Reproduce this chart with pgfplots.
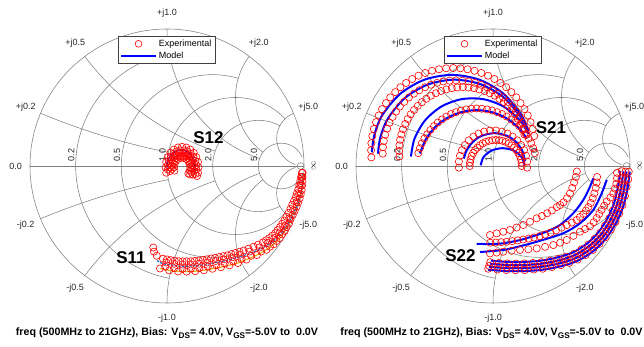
\documentclass[border=0pt]{standalone}
\usepackage{fontspec}
\setmainfont{Liberation Sans}
\usepackage{pgfplots}
\pgfplotsset{compat=1.18}
\definecolor{gridc}{RGB}{128,128,128}
\definecolor{mblue}{RGB}{40,120,200}
\definecolor{myel}{RGB}{237,177,32}
\tikzset{gl/.style={gridc,line width=0.55pt},
 lab/.style={font=\fontsize{9}{10}\selectfont,text=black!85,inner sep=1pt}}
\newcommand{\smithgrid}{%
\draw[gl] (0,0) circle[radius=1];
\draw[gl] (-1,0) -- (1,0);
\draw[gl] ([shift={(100.39:0.8333)}]0.1667,0) arc[start angle=100.39,end angle=259.61,radius=0.8333];
\draw[gl] ([shift={(73.74:0.6667)}]0.3333,0) arc[start angle=73.74,end angle=286.26,radius=0.6667];
\draw[gl] ([shift={(43.60:0.5)}]0.5,0) arc[start angle=43.60,end angle=316.40,radius=0.5];
\draw[gl] ([shift={(61.93:0.3333)}]0.6667,0) arc[start angle=61.93,end angle=298.07,radius=0.3333];
\draw[gl] ([shift={(22.62:0.1667)}]0.8333,0) arc[start angle=22.62,end angle=337.38,radius=0.1667];
\draw[gl] ([shift={(-112.62:5)}]1,5) arc[start angle=-112.62,end angle=-101.42,radius=5];
\draw[gl] ([shift={(112.62:5)}]1,-5) arc[start angle=112.62,end angle=101.42,radius=5];
\draw[gl] ([shift={(-143.13:2)}]1,2) arc[start angle=-143.13,end angle=-108.92,radius=2];
\draw[gl] ([shift={(143.13:2)}]1,-2) arc[start angle=143.13,end angle=108.92,radius=2];
\draw[gl] ([shift={(-180:1)}]1,1) arc[start angle=-180,end angle=-108.92,radius=1];
\draw[gl] ([shift={(180:1)}]1,-1) arc[start angle=180,end angle=108.92,radius=1];
\draw[gl] ([shift={(-216.87:0.5)}]1,0.5) arc[start angle=-216.87,end angle=-126.87,radius=0.5];
\draw[gl] ([shift={(216.87:0.5)}]1,-0.5) arc[start angle=216.87,end angle=126.87,radius=0.5];
\draw[gl] ([shift={(-247.38:0.2)}]1,0.2) arc[start angle=-247.38,end angle=-108.33,radius=0.2];
\draw[gl] ([shift={(247.38:0.2)}]1,-0.2) arc[start angle=247.38,end angle=108.33,radius=0.2];
\draw[gl] (0.975,0) circle[radius=0.025];
\node[lab] at (0,1.115) {+j1.0};
\node[lab] at (-0.67,0.894) {+j0.5};
\node[lab] at (0.67,0.894) {+j2.0};
\node[lab] at (-1.031,0.43) {+j0.2};
\node[lab] at (1.031,0.43) {+j5.0};
\node[lab] at (0,-1.11) {-j1.0};
\node[lab] at (-0.67,-0.894) {-j0.5};
\node[lab] at (0.67,-0.894) {-j2.0};
\node[lab] at (-1.031,-0.43) {-j0.2};
\node[lab] at (1.031,-0.43) {-j5.0};
\node[lab,anchor=east] at (-1.05,0) {0.0};
\node[lab,rotate=90] at (1.07,0) {$\infty$};
\node[lab,rotate=90,anchor=south west] at (-0.667,0.025) {0.2};
\node[lab,rotate=90,anchor=south west] at (-0.333,0.025) {0.5};
\node[lab,rotate=90,anchor=south west] at (0,0.025) {1.0};
\node[lab,rotate=90,anchor=south west] at (0.333,0.025) {2.0};
\node[lab,rotate=90,anchor=south west] at (0.667,0.025) {5.0};
}
\pgfplotsset{
 legend image code/.code={\draw[mark repeat=2,mark phase=2,#1] plot coordinates {(0cm,0cm) (0.6cm,0cm) (1.2cm,0cm)};},
 exp/.style={only marks,mark=o,mark size=3.6pt,red,mark options={line width=0.6pt}},
 mdl/.style={no marks,blue,line width=2pt,smooth},
 smax/.style={x=137pt,y=137pt,xmin=-1,xmax=1,ymin=-1,ymax=1,hide axis,clip=false,anchor=south west,
   legend style={at={(axis cs:-0.358,0.949)},anchor=north west,draw=black!75,line width=0.6pt,fill=white,
   font=\fontsize{9}{10}\selectfont,inner xsep=2pt,inner ysep=1.5pt,row sep=0pt,cells={anchor=west}}},
}
\newcommand{\mylegend}{%
\addlegendimage{only marks,mark=o,mark size=3.4pt,red,mark options={line width=0.6pt}}
\addlegendentry{Experimental}
\addlegendimage{no marks,blue,line width=2.4pt}
\addlegendentry{Model}
}
\begin{document}
\begin{tikzpicture}
\path[use as bounding box] (0,0) rectangle (644pt,347pt);
\begin{scope}[shift={(167pt,181pt)},x=137pt,y=137pt]\smithgrid\end{scope}
\begin{scope}[shift={(493pt,181pt)},x=137pt,y=137pt]\smithgrid\end{scope}

% ---------------- LEFT: S11, S12 ----------------
\begin{axis}[smax,at={(30pt,44pt)}]
\mylegend
% S12 model
\addplot[no marks,blue,line width=1.5pt,smooth] coordinates {(0.0,-0.01)(0.005,0.04)(0.03,0.08)(0.065,0.108)(0.11,0.118)(0.15,0.105)(0.18,0.075)(0.198,0.035)(0.205,-0.005)(0.203,-0.045)};
% S12 experimental
\addplot[exp] coordinates {(-0.006,-0.049)(-0.010,-0.010)(-0.006,0.029)(0.006,0.065)(0.025,0.096)(0.050,0.120)(0.079,0.135)(0.110,0.140)(0.141,0.135)(0.170,0.120)(0.195,0.096)(0.214,0.065)(0.226,0.029)(0.230,-0.010)(0.226,-0.049)(0.219,-0.073)};
\addplot[exp] coordinates {(0.006,-0.026)(0.006,0.006)(0.013,0.038)(0.027,0.066)(0.046,0.089)(0.070,0.106)(0.096,0.114)(0.124,0.114)(0.150,0.106)(0.174,0.089)(0.193,0.066)(0.207,0.038)(0.214,0.006)(0.214,-0.026)(0.207,-0.058)};
\addplot[exp] coordinates {(0.023,-0.037)(0.020,-0.010)(0.023,0.017)(0.032,0.043)(0.046,0.064)(0.065,0.081)(0.087,0.091)(0.110,0.095)(0.133,0.091)(0.155,0.081)(0.174,0.064)(0.188,0.043)(0.197,0.017)(0.200,-0.010)(0.197,-0.037)(0.188,-0.063)};
\addplot[exp] coordinates {(0.036,-0.021)(0.036,0.001)(0.041,0.023)(0.051,0.042)(0.064,0.057)(0.081,0.069)(0.100,0.074)(0.120,0.074)(0.139,0.069)(0.156,0.057)(0.169,0.042)(0.179,0.023)(0.184,0.001)(0.184,-0.021)(0.179,-0.043)(0.169,-0.062)};
\addplot[exp] coordinates {(0.054,-0.034)(0.050,-0.010)(0.054,0.014)(0.064,0.035)(0.080,0.051)(0.100,0.059)(0.120,0.059)(0.140,0.051)(0.156,0.035)(0.166,0.014)(0.170,-0.010)(0.166,-0.034)(0.156,-0.055)};
% S11 yellow model (mostly hidden)
\addplot[no marks,myel,line width=1.2pt,smooth] coordinates {(0.990,-0.050)(0.988,-0.110)(0.983,-0.175)(0.968,-0.237)(0.946,-0.297)(0.918,-0.358)(0.890,-0.421)(0.860,-0.474)(0.823,-0.527)(0.778,-0.572)(0.726,-0.611)(0.656,-0.650)(0.580,-0.683)(0.518,-0.708)(0.456,-0.725)(0.394,-0.739)(0.332,-0.750)(0.269,-0.761)(0.206,-0.768)(0.143,-0.771)(0.081,-0.770)(0.016,-0.762)(-0.051,-0.748)};
% S11 experimental
\addplot[exp] coordinates {(0.990,-0.050)(0.988,-0.110)(0.983,-0.175)(0.968,-0.237)(0.946,-0.297)(0.918,-0.358)(0.890,-0.421)(0.860,-0.474)(0.823,-0.527)(0.778,-0.572)(0.726,-0.611)(0.656,-0.650)(0.580,-0.683)(0.518,-0.708)(0.456,-0.725)(0.394,-0.739)(0.332,-0.750)(0.269,-0.761)(0.206,-0.768)(0.143,-0.771)(0.081,-0.770)(0.016,-0.762)(-0.051,-0.748)};
\addplot[exp] coordinates {(0.984,-0.080)(0.976,-0.141)(0.964,-0.203)(0.946,-0.263)(0.921,-0.322)(0.892,-0.382)(0.859,-0.436)(0.824,-0.484)(0.783,-0.526)(0.735,-0.562)(0.675,-0.595)(0.603,-0.625)(0.535,-0.648)(0.475,-0.666)(0.415,-0.681)(0.355,-0.693)(0.294,-0.704)(0.234,-0.713)(0.173,-0.718)(0.113,-0.719)(0.053,-0.714)(-0.006,-0.704)};
\addplot[exp] coordinates {(0.985,-0.050)(0.973,-0.109)(0.959,-0.170)(0.940,-0.227)(0.914,-0.283)(0.888,-0.341)(0.857,-0.398)(0.825,-0.446)(0.790,-0.490)(0.747,-0.526)(0.699,-0.558)(0.632,-0.589)(0.559,-0.617)(0.499,-0.635)(0.441,-0.652)(0.381,-0.664)(0.321,-0.675)(0.262,-0.686)(0.202,-0.693)(0.143,-0.696)(0.085,-0.695)(0.027,-0.687)(-0.029,-0.677)(-0.075,-0.655)(-0.095,-0.625)(-0.100,-0.595)};
\addplot[exp] coordinates {(0.979,-0.080)(0.966,-0.140)(0.949,-0.199)(0.927,-0.255)(0.901,-0.313)(0.872,-0.370)(0.841,-0.422)(0.807,-0.468)(0.769,-0.508)(0.723,-0.542)(0.665,-0.574)(0.595,-0.603)(0.529,-0.626)(0.470,-0.643)(0.411,-0.658)(0.351,-0.670)(0.291,-0.681)(0.232,-0.690)(0.173,-0.695)(0.114,-0.696)(0.056,-0.691)(-0.001,-0.682)};
\addplot[exp] coordinates {(0.989,-0.080)(0.986,-0.143)(0.976,-0.206)(0.957,-0.267)(0.932,-0.328)(0.902,-0.388)(0.873,-0.446)(0.840,-0.499)(0.799,-0.547)(0.751,-0.589)(0.688,-0.624)(0.614,-0.655)(0.544,-0.679)(0.483,-0.697)(0.421,-0.712)(0.360,-0.724)(0.298,-0.735)(0.236,-0.745)(0.174,-0.750)(0.113,-0.751)(0.051,-0.746)(-0.013,-0.735)};
% S11 model
\addplot[no marks,mblue,line width=1.3pt,smooth,dash pattern=on 2.5pt off 1.2pt] coordinates {(0.990,-0.050)(0.988,-0.110)(0.983,-0.175)(0.968,-0.237)(0.946,-0.297)(0.918,-0.358)(0.886,-0.418)(0.852,-0.468)(0.813,-0.516)(0.767,-0.555)(0.715,-0.589)(0.645,-0.622)(0.569,-0.650)(0.508,-0.669)(0.448,-0.686)(0.387,-0.699)(0.326,-0.710)(0.265,-0.721)(0.204,-0.728)(0.143,-0.731)(0.083,-0.730)(0.022,-0.722)(-0.039,-0.710)(-0.075,-0.688)};
\end{axis}

% ---------------- RIGHT: S21, S22 ----------------
\begin{axis}[smax,at={(356pt,44pt)}]
\mylegend
% S21 experimental
\addplot[exp] coordinates {(0.301,0.219)(0.290,0.270)(0.274,0.320)(0.254,0.369)(0.230,0.415)(0.201,0.459)(0.170,0.501)(0.134,0.539)(0.096,0.575)(0.054,0.606)(0.010,0.635)(-0.036,0.659)(-0.085,0.679)(-0.135,0.695)(-0.186,0.706)(-0.238,0.713)(-0.290,0.715)(-0.342,0.713)(-0.394,0.706)(-0.445,0.695)(-0.495,0.679)(-0.544,0.659)(-0.590,0.635)(-0.634,0.606)(-0.676,0.575)(-0.714,0.539)(-0.750,0.501)(-0.781,0.459)(-0.810,0.415)(-0.834,0.369)(-0.854,0.320)(-0.870,0.270)(-0.881,0.219)(-0.888,0.167)(-0.890,0.115)(-0.888,0.063)};
\addplot[exp] coordinates {(0.247,0.228)(0.233,0.273)(0.215,0.316)(0.193,0.358)(0.168,0.397)(0.140,0.434)(0.108,0.468)(0.074,0.500)(0.037,0.528)(-0.002,0.553)(-0.044,0.575)(-0.087,0.593)(-0.132,0.607)(-0.177,0.617)(-0.223,0.623)(-0.270,0.625)(-0.317,0.623)(-0.363,0.617)(-0.408,0.607)(-0.453,0.593)(-0.496,0.575)(-0.538,0.553)(-0.577,0.528)(-0.614,0.500)(-0.648,0.468)(-0.680,0.434)(-0.708,0.397)(-0.733,0.358)(-0.755,0.316)(-0.773,0.273)(-0.787,0.228)(-0.797,0.183)(-0.803,0.137)(-0.805,0.090)};
\addplot[exp] coordinates {(0.229,0.230)(0.217,0.269)(0.201,0.307)(0.183,0.343)(0.161,0.377)(0.136,0.409)(0.109,0.439)(0.079,0.466)(0.047,0.491)(0.013,0.513)(-0.023,0.531)(-0.061,0.547)(-0.100,0.559)(-0.139,0.568)(-0.179,0.573)(-0.220,0.575)(-0.261,0.573)(-0.301,0.568)(-0.340,0.559)(-0.379,0.547)(-0.417,0.531)(-0.453,0.513)(-0.487,0.491)(-0.519,0.466)(-0.549,0.439)(-0.576,0.409)(-0.601,0.377)(-0.623,0.343)(-0.641,0.307)(-0.657,0.269)(-0.669,0.230)(-0.678,0.191)(-0.683,0.151)(-0.685,0.110)(-0.683,0.069)};
\addplot[exp] coordinates {(0.305,0.094)(0.293,0.130)(0.279,0.166)(0.261,0.200)(0.240,0.232)(0.217,0.263)(0.191,0.291)(0.163,0.317)(0.132,0.340)(0.100,0.361)(0.066,0.379)(0.030,0.393)(-0.006,0.405)(-0.044,0.413)(-0.082,0.418)(-0.120,0.420)(-0.158,0.418)(-0.196,0.413)(-0.234,0.405)(-0.270,0.393)(-0.306,0.379)(-0.340,0.361)(-0.372,0.340)(-0.403,0.317)(-0.431,0.291)(-0.457,0.263)(-0.480,0.232)(-0.501,0.200)(-0.519,0.166)(-0.533,0.130)(-0.545,0.094)};
\addplot[exp] coordinates {(0.249,-0.012)(0.249,0.032)(0.241,0.075)(0.227,0.116)(0.205,0.153)(0.177,0.187)(0.143,0.215)(0.106,0.237)(0.065,0.251)(0.022,0.259)(-0.022,0.259)(-0.065,0.251)(-0.106,0.237)(-0.143,0.215)(-0.177,0.187)(-0.205,0.153)(-0.227,0.116)(-0.241,0.075)(-0.249,0.032)(-0.249,-0.012)};
\addplot[exp] coordinates {(0.210,0.000)(0.208,0.025)(0.204,0.049)(0.196,0.073)(0.185,0.095)(0.171,0.116)(0.154,0.134)(0.136,0.151)(0.115,0.165)(0.093,0.176)(0.069,0.184)(0.045,0.188)(0.020,0.190)(-0.005,0.188)(-0.029,0.184)(-0.053,0.176)(-0.075,0.165)(-0.096,0.151)(-0.114,0.134)(-0.131,0.116)(-0.145,0.095)(-0.156,0.073)(-0.164,0.049)(-0.168,0.025)(-0.170,0.000)};
% S22 experimental
\addplot[exp] coordinates {(0.612,-0.040)(0.605,-0.080)(0.592,-0.120)(0.578,-0.160)(0.562,-0.200)(0.540,-0.235)(0.515,-0.265)(0.490,-0.285)(0.465,-0.300)(0.430,-0.325)(0.395,-0.345)(0.357,-0.365)(0.319,-0.382)(0.270,-0.407)(0.221,-0.431)(0.172,-0.449)(0.124,-0.467)(0.075,-0.480)(0.027,-0.492)(-0.022,-0.504)};
\addplot[exp] coordinates {(0.760,-0.080)(0.757,-0.120)(0.750,-0.160)(0.740,-0.200)(0.728,-0.235)(0.713,-0.270)(0.696,-0.300)(0.678,-0.325)(0.659,-0.350)(0.635,-0.372)(0.611,-0.394)(0.575,-0.413)(0.538,-0.431)(0.500,-0.450)(0.460,-0.470)(0.420,-0.487)(0.380,-0.500)(0.340,-0.512)(0.300,-0.522)(0.260,-0.530)(0.220,-0.537)(0.180,-0.543)(0.140,-0.548)(0.100,-0.553)(0.060,-0.556)(0.020,-0.559)(-0.020,-0.560)};
\addplot[exp] coordinates {(0.905,-0.050)(0.905,-0.090)(0.900,-0.130)(0.890,-0.165)(0.878,-0.200)(0.857,-0.230)(0.830,-0.260)(0.812,-0.290)(0.793,-0.320)(0.775,-0.350)(0.757,-0.380)(0.735,-0.410)(0.708,-0.440)(0.672,-0.460)(0.635,-0.480)(0.587,-0.510)(0.538,-0.540)(0.490,-0.560)(0.440,-0.577)(0.380,-0.590)(0.319,-0.602)(0.258,-0.608)(0.197,-0.613)(0.136,-0.619)(0.075,-0.626)(0.027,-0.632)(-0.022,-0.638)};
\addplot[exp] coordinates {(0.940,-0.038)(0.937,-0.091)(0.926,-0.143)(0.914,-0.205)(0.897,-0.267)(0.875,-0.325)(0.849,-0.382)(0.818,-0.435)(0.783,-0.487)(0.742,-0.532)(0.697,-0.573)(0.646,-0.608)(0.592,-0.640)(0.534,-0.662)(0.477,-0.678)(0.415,-0.691)(0.353,-0.702)(0.291,-0.708)(0.229,-0.711)(0.167,-0.712)(0.105,-0.711)(0.042,-0.708)(-0.020,-0.702)};
\addplot[exp] coordinates {(0.967,-0.040)(0.964,-0.094)(0.952,-0.149)(0.941,-0.213)(0.923,-0.277)(0.900,-0.337)(0.873,-0.396)(0.841,-0.451)(0.804,-0.505)(0.761,-0.551)(0.715,-0.594)(0.662,-0.631)(0.606,-0.663)(0.547,-0.686)(0.487,-0.703)(0.423,-0.717)(0.358,-0.728)(0.294,-0.734)(0.230,-0.738)(0.165,-0.739)(0.101,-0.738)(0.037,-0.734)(-0.028,-0.728)};
\addplot[exp] coordinates {(0.991,-0.041)(0.987,-0.097)(0.975,-0.153)(0.963,-0.219)(0.945,-0.286)(0.921,-0.347)(0.894,-0.408)(0.860,-0.465)(0.822,-0.520)(0.778,-0.568)(0.730,-0.612)(0.676,-0.650)(0.618,-0.683)(0.557,-0.707)(0.496,-0.724)(0.430,-0.738)(0.363,-0.750)(0.297,-0.756)(0.231,-0.760)(0.164,-0.761)(0.098,-0.760)(0.032,-0.756)(-0.035,-0.750)};
% S21 model
\addplot[mdl] coordinates {(0.259,0.251)(0.207,0.373)(0.076,0.528)(-0.100,0.630)(-0.300,0.665)(-0.500,0.630)(-0.676,0.528)(-0.807,0.373)(-0.865,0.231)(-0.885,0.100)};
\addplot[mdl] coordinates {(0.256,0.234)(0.205,0.350)(0.080,0.499)(-0.088,0.596)(-0.280,0.630)(-0.472,0.596)(-0.640,0.499)(-0.765,0.350)(-0.821,0.215)(-0.840,0.090)};
\addplot[mdl] coordinates {(0.258,0.235)(0.195,0.334)(0.075,0.435)(-0.072,0.488)(-0.228,0.488)(-0.375,0.435)(-0.495,0.334)(-0.573,0.199)(-0.599,0.069)};
\addplot[mdl] coordinates {(0.247,0.200)(0.183,0.283)(0.094,0.351)(-0.009,0.393)(-0.120,0.408)(-0.231,0.393)(-0.334,0.351)(-0.423,0.283)(-0.491,0.194)(-0.533,0.091)};
\addplot[mdl] coordinates {(0.234,0.035)(0.214,0.110)(0.169,0.174)(0.105,0.219)(0.010,0.240)(-0.085,0.219)(-0.149,0.174)(-0.194,0.110)(-0.212,0.054)};
\addplot[mdl] coordinates {(0.230,0.005)(0.209,0.065)(0.150,0.113)(0.070,0.130)(-0.010,0.113)(-0.069,0.065)(-0.090,0.005)};
% S22 model
\addplot[mdl] coordinates {(0.732,-0.090)(0.708,-0.151)(0.659,-0.248)(0.586,-0.345)(0.489,-0.431)(0.400,-0.475)(0.319,-0.504)(0.200,-0.540)(0.075,-0.564)(-0.020,-0.570)(-0.119,-0.568)};
\addplot[mdl] coordinates {(0.830,-0.102)(0.793,-0.200)(0.732,-0.321)(0.635,-0.418)(0.513,-0.491)(0.319,-0.553)(0.200,-0.585)(0.075,-0.613)(-0.095,-0.628)};
\addplot[mdl] coordinates {(0.929,-0.038)(0.914,-0.141)(0.886,-0.263)(0.839,-0.376)(0.773,-0.479)(0.689,-0.564)(0.585,-0.630)(0.473,-0.667)(0.350,-0.691)(0.228,-0.700)(0.106,-0.700)(-0.016,-0.691)};
\addplot[mdl] coordinates {(0.952,-0.039)(0.937,-0.146)(0.908,-0.272)(0.860,-0.388)(0.792,-0.495)(0.704,-0.582)(0.598,-0.650)(0.481,-0.689)(0.355,-0.713)(0.229,-0.723)(0.103,-0.723)(-0.023,-0.713)};
\addplot[mdl] coordinates {(0.975,-0.040)(0.960,-0.150)(0.930,-0.280)(0.880,-0.400)(0.810,-0.510)(0.720,-0.600)(0.610,-0.670)(0.490,-0.710)(0.360,-0.735)(0.230,-0.745)(0.100,-0.745)(-0.030,-0.735)};
\addplot[mdl] coordinates {(0.998,-0.041)(0.983,-0.155)(0.952,-0.288)(0.900,-0.412)(0.828,-0.525)(0.736,-0.618)(0.622,-0.690)(0.499,-0.731)(0.365,-0.757)(0.231,-0.767)(0.097,-0.767)(-0.037,-0.757)};
\end{axis}

\tikzset{slab/.style={font=\bfseries\fontsize{17}{19}\selectfont,inner sep=0pt}}
\node[slab] at (208.5pt,209.5pt) {S12};
\node[slab] at (131pt,89.5pt) {S11};
\node[slab] at (551pt,219.5pt) {S21};
\node[slab] at (460.5pt,91.5pt) {S22};
\newcommand{\capt}{freq (500MHz to 21GHz), Bias: V\raisebox{-3pt}{\fontsize{8.2}{9}\selectfont DS}= 4.0V, V\raisebox{-3pt}{\fontsize{8.2}{9}\selectfont GS}=-5.0V to\ \ 0.0V}
\node[anchor=base,font=\bfseries\fontsize{10.7}{12}\selectfont,inner sep=0pt] at (167pt,11pt) {\capt};
\node[anchor=base,font=\bfseries\fontsize{10.7}{12}\selectfont,inner sep=0pt] at (491.5pt,11pt) {\capt};
\end{tikzpicture}
\end{document}
